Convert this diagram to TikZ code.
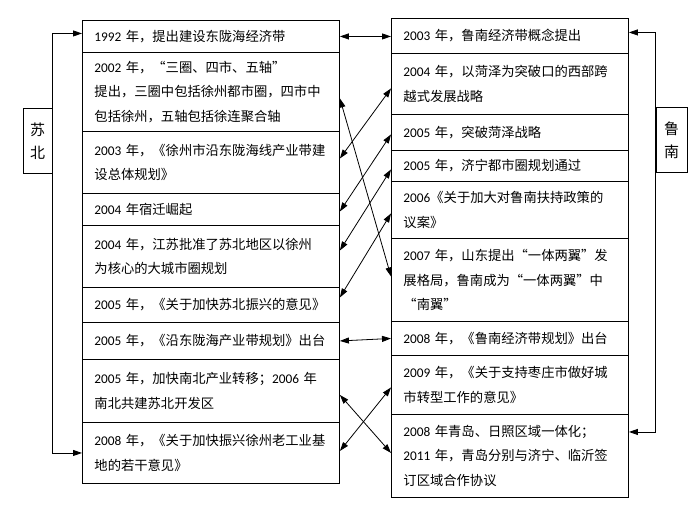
\documentclass[tikz,border=0pt]{standalone}
\usepackage{fontspec}
\setmainfont{Noto Sans CJK SC}
\newfontfamily\numfont{Carlito}
\usetikzlibrary{positioning,arrows.meta}
\newcommand{\yr}[1]{{\numfont #1}}

\begin{document}
\begin{tikzpicture}[
  x=1pt, y=-1pt,
  >={Triangle[length=9pt,width=6pt]},
  evt/.style={draw, line width=0.9pt, anchor=north west, align=left,
              inner xsep=12pt, inner ysep=2pt,
              font=\fontsize{13.3}{24.5}\selectfont},
  lbox/.style={evt, text width=233pt},
  rbox/.style={evt, text width=213pt},
  side/.style={draw, line width=0.9pt, align=center, inner sep=2pt,
               minimum height=65pt, font=\fontsize{15}{23}\selectfont},
  link/.style={<->, line width=0.8pt},
]
  \useasboundingbox (0,0) rectangle (700,507);

  % Subei column
  \node[lbox, minimum height=32] (l1) at (82,20) {\yr{1992} 年，提出建设东陇海经济带};
  \node[lbox, minimum height=79] (l2) at (82,52)
       {\yr{2002} 年，“三圈、四市、五轴”\\提出，三圈中包括徐州都市圈，四市中\\包括徐州，五轴包括徐连聚合轴};
  \node[lbox, minimum height=62] (l3) at (82,131)
       {\yr{2003} 年，《徐州市沿东陇海线产业带建\\设总体规划》};
  \node[lbox, minimum height=32] (l4) at (82,193) {\yr{2004} 年宿迁崛起};
  \node[lbox, minimum height=62] (l5) at (82,225)
       {\yr{2004} 年，江苏批准了苏北地区以徐州\\为核心的大城市圈规划};
  \node[lbox, minimum height=35] (l6) at (82,287) {\yr{2005} 年，《关于加快苏北振兴的意见》};
  \node[lbox, minimum height=37] (l7) at (82,322) {\yr{2005} 年，《沿东陇海产业带规划》出台};
  \node[lbox, minimum height=63] (l8) at (82,359)
       {\yr{2005} 年，加快南北产业转移；\yr{2006} 年\\南北共建苏北开发区};
  \node[lbox, minimum height=61] (l9) at (82,422)
       {\yr{2008} 年，《关于加快振兴徐州老工业基\\地的若干意见》};

  % Lunan column
  \node[rbox, minimum height=35] (r1) at (391,18) {\yr{2003} 年，鲁南经济带概念提出};
  \node[rbox, minimum height=61] (r2) at (391,53)
       {\yr{2004} 年，以菏泽为突破口的西部跨\\越式发展战略};
  \node[rbox, minimum height=36] (r3) at (391,114) {\yr{2005} 年，突破菏泽战略};
  \node[rbox, minimum height=31] (r4) at (391,150) {\yr{2005} 年，济宁都市圈规划通过};
  \node[rbox, minimum height=57] (r5) at (391,181)
       {\yr{2006}《关于加大对鲁南扶持政策的\\议案》};
  \node[rbox, minimum height=83] (r6) at (391,238)
       {\yr{2007} 年，山东提出“一体两翼”发\\展格局，鲁南成为“一体两翼”中\\“南翼”};
  \node[rbox, minimum height=34] (r7) at (391,321) {\yr{2008} 年，《鲁南经济带规划》出台};
  \node[rbox, minimum height=59] (r8) at (391,355)
       {\yr{2009} 年，《关于支持枣庄市做好城\\市转型工作的意见》};
  \node[rbox, minimum height=83] (r9) at (391,414)
       {\yr{2008} 年青岛、日照区域一体化；\\\yr{2011} 年，青岛分别与济宁、临沂签\\订区域合作协议};

  % region labels
  \node[side, minimum width=29] (sb) at (37.5,141) {苏\\北};
  \node[side, minimum width=31] (ln) at (671.5,140) {鲁\\南};

  % brackets
  \draw[link] ([yshift=3]l1.west) -| (sb.east) |- (l9.west);
  \draw[link] ([yshift=3.5]r1.east) -| (ln.west) |- ([yshift=24]r9.east);

  % links between the two columns
  \draw[link] (l1.east) -- (l1.east -| r1.west);
  \draw[link] ([yshift=-6.5]l2.east) -- ([yshift=3.5]r6.west);
  \draw[link] ([yshift=4]l3.east) -- ([yshift=-4.5]r2.west);
  \draw[link] ([yshift=-2]l4.east) -- ([yshift=-2]r3.west);
  \draw[link] ([yshift=6]l5.east) -- ([yshift=-3.5]r4.west);
  \draw[link] ([yshift=7.5]l6.east) -- ([yshift=-3.5]r5.west);
  \draw[link] (l7.east) -- (r7.west);
  \draw[link] ([yshift=-4]l8.east) -- ([yshift=3]r9.west);
  \draw[link] ([yshift=2]l9.east) -- ([yshift=-2.5]r8.west);
\end{tikzpicture}
\end{document}
